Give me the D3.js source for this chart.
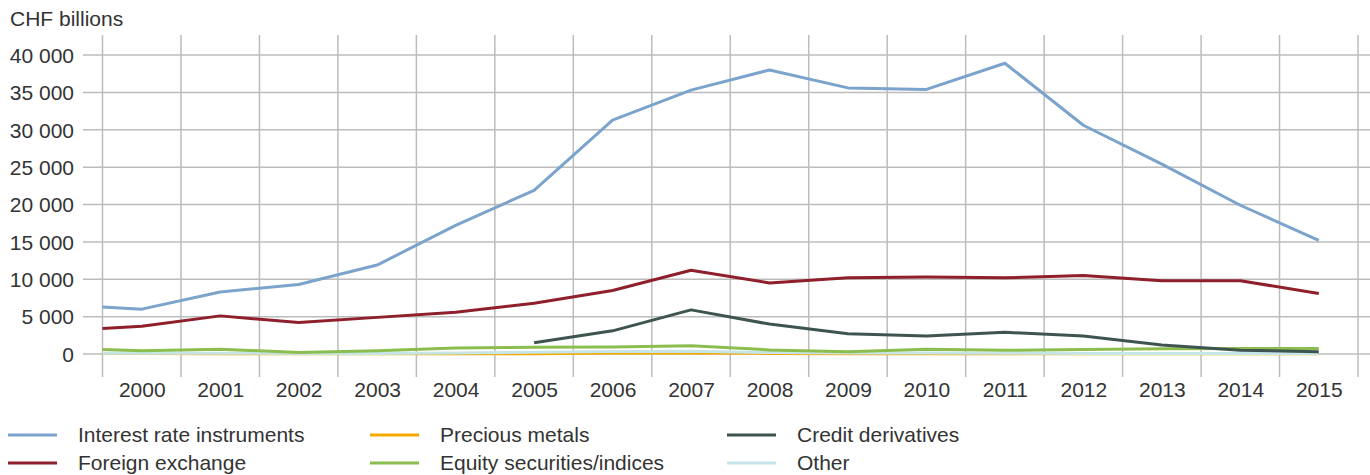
<!DOCTYPE html>
<html>
<head>
<meta charset="utf-8">
<script src="https://cdn.jsdelivr.net/npm/d3@7"></script>
<style>
  html, body { margin: 0; padding: 0; background: #fff; }
  svg text { font-family: "Liberation Sans", Arial, sans-serif; fill: #333; }
</style>
</head>
<body>
<svg id="chart" width="1370" height="475"></svg>
<script>
// Reporting points: a start-of-period reading followed by year ends 2000–2015
const periods = [1999.5, 2000, 2001, 2002, 2003, 2004, 2005, 2006, 2007, 2008, 2009, 2010, 2011, 2012, 2013, 2014, 2015];
const yearLabels = ["2000", "2001", "2002", "2003", "2004", "2005", "2006", "2007", "2008", "2009", "2010", "2011", "2012", "2013", "2014", "2015"];
const yTicks = [0, 5000, 10000, 15000, 20000, 25000, 30000, 35000, 40000];

// Contract volumes, CHF billions
const interestRate = [6300, 6000, 8300, 9300, 11900, 17200, 21900, 31300, 35300, 38000, 35600, 35400, 38900, 30600, 25400, 19900, 15200];
const foreignExchange = [3400, 3700, 5100, 4200, 4900, 5600, 6800, 8500, 11200, 9500, 10200, 10300, 10200, 10500, 9800, 9800, 8100];
const preciousMetals = [60, 60, 50, 40, 40, 40, 40, 120, 150, 80, 30, 20, 20, 20, 20, 30, 30];
const equity = [600, 450, 650, 200, 450, 800, 900, 950, 1100, 550, 300, 650, 500, 600, 700, 750, 750];
const credit = [null, null, null, null, null, null, 1500, 3100, 5900, 4000, 2700, 2400, 2900, 2400, 1200, 500, 300];
const other = [100, 100, 100, 80, 80, 120, 250, 320, 380, 200, 150, 120, 100, 80, 70, 60, 60];

const seriesNames = ["Interest rate instruments", "Foreign exchange", "Precious metals", "Equity securities/indices", "Credit derivatives", "Other"];
const seriesValues = [interestRate, foreignExchange, preciousMetals, equity, credit, other];
const seriesColors = ["#7ba3cc", "#8e1f2b", "#f5a800", "#8bbd4f", "#3e5450", "#c6e5e6"];
// draw order: small series at the bottom first, big lines on top
const drawOrder = [2, 5, 3, 4, 1, 0];

const svg = d3.select("#chart");
const x = d3.scaleLinear().domain([1999.5, 2015.5]).range([102.5, 1358]);
const y = d3.scaleLinear().domain([0, 40000]).range([354, 55]);
const fmt = d3.formatLocale({ decimal: ".", thousands: " ", grouping: [3], currency: ["", ""] }).format(",d");
const FS = 21;

// vertical year-boundary grid
const bounds = d3.range(1999.5, 2016, 1);
svg.append("g").selectAll("line").data(bounds).join("line")
  .attr("x1", d => x(d)).attr("x2", d => x(d))
  .attr("y1", 35).attr("y2", 377)
  .attr("stroke", "#bcbcbc").attr("stroke-width", 1.5);

// horizontal value grid
svg.append("g").selectAll("line").data(yTicks).join("line")
  .attr("x1", 83).attr("x2", 1370)
  .attr("y1", d => y(d)).attr("y2", d => y(d))
  .attr("stroke", "#bcbcbc").attr("stroke-width", 1.5);

// y-axis labels
const yAxis = d3.axisLeft(y).tickValues(yTicks).tickFormat(fmt).tickSize(0).tickPadding(0);
const gy = svg.append("g").attr("transform", "translate(74,0)").call(yAxis);
gy.select(".domain").remove();
gy.selectAll("text").attr("font-size", FS).attr("dy", "0.35em")
  .style("font-family", "'Liberation Sans', Arial, sans-serif").attr("fill", "#333");

// x-axis labels at year positions
const xAxis = d3.axisBottom(x).tickValues(yearLabels.map(Number)).tickFormat(d => String(d)).tickSize(0).tickPadding(0);
const gx = svg.append("g").attr("transform", "translate(0,382)").call(xAxis);
gx.select(".domain").remove();
gx.selectAll("text").attr("font-size", FS).attr("dy", "0.71em")
  .style("font-family", "'Liberation Sans', Arial, sans-serif").attr("fill", "#333");

// unit label
svg.append("text").attr("x", 10).attr("y", 26).attr("font-size", FS).text("CHF billions");

// series lines
const line = d3.line()
  .defined(d => d[1] != null)
  .x(d => x(d[0])).y(d => y(d[1]));
drawOrder.forEach(i => {
  const pts = periods.map((p, k) => [p, seriesValues[i][k]]);
  svg.append("path").datum(pts)
    .attr("d", line)
    .attr("fill", "none")
    .attr("stroke", seriesColors[i])
    .attr("stroke-width", 3)
    .attr("stroke-linejoin", "round");
});

// legend: three columns, two rows
const legCols = [8, 370, 727];
const legRows = [435, 463];
const leg = svg.append("g");
seriesNames.forEach((name, k) => {
  const cx = legCols[Math.floor(k / 2)];
  const cy = legRows[k % 2];
  leg.append("line").attr("x1", cx).attr("x2", cx + 49).attr("y1", cy).attr("y2", cy)
    .attr("stroke", seriesColors[k]).attr("stroke-width", 3);
  leg.append("text").attr("x", cx + 70).attr("y", cy).attr("dy", "0.35em")
    .attr("font-size", FS).text(name);
});
</script>
</body>
</html>
